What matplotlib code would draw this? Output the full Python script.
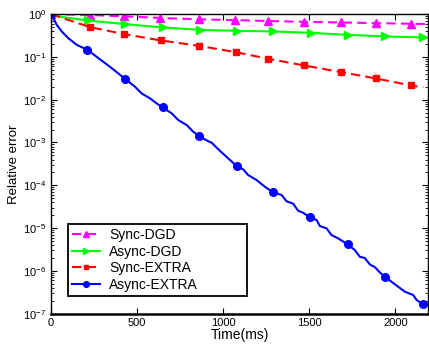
import numpy as np
from matplotlib import pyplot as plt
from matplotlib.ticker import LogLocator, NullFormatter

plt.rcParams['font.family'] = ['Liberation Sans', 'DejaVu Sans']

# Sync-DGD
sdgd_t = [0, 226, 426, 633, 859, 1068, 1262, 1469, 1683, 1886, 2088, 2181]
sdgd_log = [0, -0.02, -0.05, -0.09, -0.12, -0.14, -0.16, -0.18, -0.195, -0.21, -0.225, -0.23]

# Async-DGD
adgd_t = [0, 50, 213, 430, 652, 865, 1078, 1290, 1509, 1725, 1939, 2161, 2185]
adgd_log = [0, -0.06, -0.147, -0.234, -0.311, -0.367, -0.39, -0.404, -0.437, -0.484, -0.521, -0.545, -0.55]

# Sync-EXTRA
sextra_t = [0, 226, 426, 636, 859, 1072, 1262, 1469, 1683, 1886, 2088, 2161]
sextra_log = [0, -0.304, -0.467, -0.614, -0.741, -0.888, -1.044, -1.199, -1.355, -1.502, -1.666, -1.712]

# Async-EXTRA (noisy trace)
aextra_t = [0, 13, 33, 62, 100, 149, 211, 275, 352, 430, 488, 526, 575, 613, 648,
            701, 739, 788, 826, 859, 904, 933, 981, 1029, 1078, 1116, 1145, 1194,
            1242, 1290, 1339, 1368, 1406, 1435, 1464, 1503, 1542, 1561, 1600, 1629,
            1667, 1722, 1764, 1793, 1822, 1852, 1880, 1910, 1939, 1977, 2016, 2055,
            2103, 2123, 2161]
aextra_log = [0, -0.093, -0.25, -0.404, -0.561, -0.717, -0.834, -1.028, -1.262, -1.512,
              -1.699, -1.853, -1.97, -2.086, -2.18, -2.32, -2.477, -2.593, -2.75, -2.843,
              -2.953, -3.007, -3.196, -3.371, -3.551, -3.629, -3.762, -3.879, -4.035,
              -4.166, -4.229, -4.374, -4.43, -4.596, -4.643, -4.75, -4.813, -4.953,
              -5.007, -5.164, -5.241, -5.381, -5.514, -5.671, -5.7, -5.853, -5.911,
              -6.04, -6.138, -6.255, -6.372, -6.488, -6.565, -6.682, -6.783]
aextra_marks = [0, 6, 9, 14, 19, 24, 29, 35, 41, 48, 54]

fig = plt.figure(figsize=(4.29, 3.45), dpi=100)
ax = fig.add_axes([0.119, 0.091, 0.879, 0.868])

ax.plot(sdgd_t, 10 ** np.array(sdgd_log), color='#ff00ff', ls=(0, (4.5, 2.5)), lw=1.5,
        marker='^', ms=6, markevery=slice(0, 11), label='Sync-DGD')
ax.plot(adgd_t, 10 ** np.array(adgd_log), color='#00ff00', ls='-', lw=1.5,
        marker='>', ms=6, markevery=[0, 2, 3, 4, 5, 6, 7, 8, 9, 10, 11], label='Async-DGD')
ax.plot(sextra_t, 10 ** np.array(sextra_log), color='#ff0000', ls=(0, (4.5, 2.5)), lw=1.5,
        marker='s', ms=4.5, markevery=slice(0, 11), label='Sync-EXTRA')
ax.plot(aextra_t, 10 ** np.array(aextra_log), color='#0000ff', ls='-', lw=1.5,
        marker='o', ms=5.5, markevery=aextra_marks, label='Async-EXTRA')

ax.set_yscale('log')
ax.set_xlim(0, 2190)
ax.set_ylim(1e-7, 1)
ax.set_xticks([0, 500, 1000, 1500, 2000])
ax.yaxis.set_minor_locator(LogLocator(base=10, subs=np.arange(2, 10)))
ax.yaxis.set_minor_formatter(NullFormatter())
ax.tick_params(which='both', direction='in', top=True, right=True, labelsize=8)
ax.tick_params(which='major', length=4)
ax.tick_params(which='minor', length=2)
for s in ax.spines.values():
    s.set_linewidth(1.0)
ax.spines['bottom'].set_linewidth(1.8)

ax.set_xlabel('Time(ms)', fontsize=10, labelpad=0)
ax.set_ylabel('Relative error', fontsize=9.5, labelpad=2)

leg = ax.legend(loc='lower left', bbox_to_anchor=(0.045, 0.058, 0.475, 0.237), mode='expand',
                borderaxespad=0, fontsize=10, numpoints=1, handlelength=2.0, markerscale=0.75,
                handletextpad=0.65, labelspacing=0.2, fancybox=False, edgecolor='black',
                framealpha=1, borderpad=0.3)
leg.get_frame().set_linewidth(1.3)

fig.savefig('out.png', dpi=100)
